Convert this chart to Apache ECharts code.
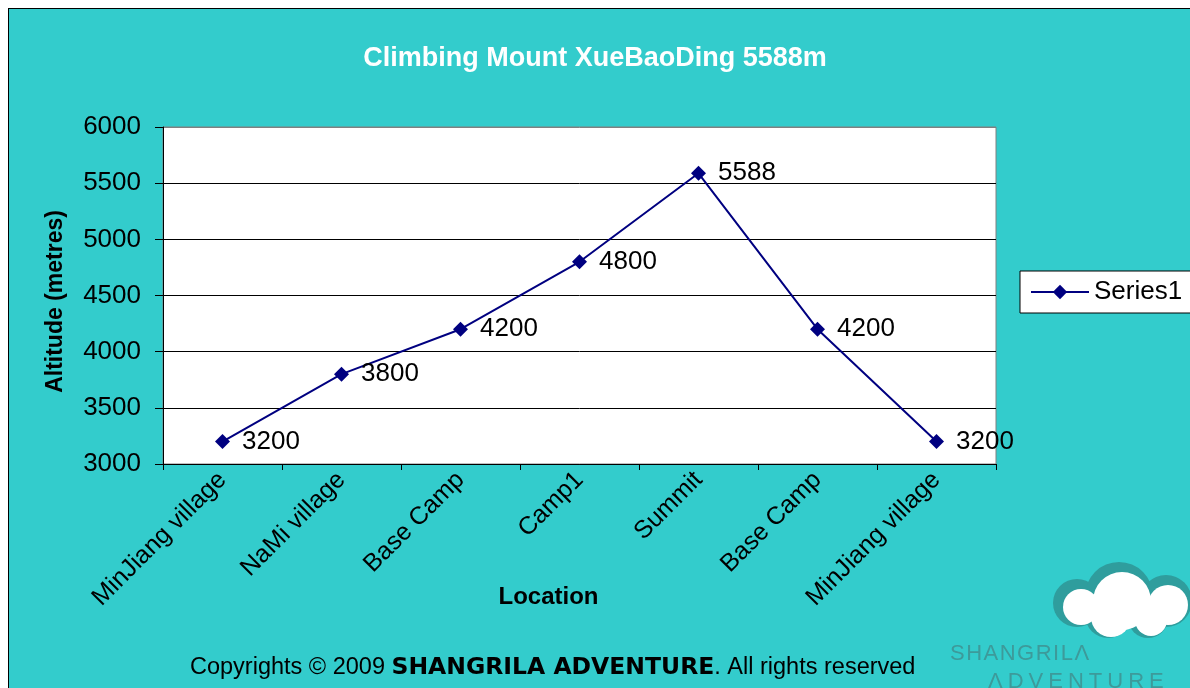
<!DOCTYPE html>
<html>
<head>
<meta charset="utf-8">
<script src="https://cdn.jsdelivr.net/npm/echarts@6/dist/echarts.min.js"></script>
<style>
  html, body { margin: 0; padding: 0; background: #fff; }
  #frame { position: absolute; left: 8px; top: 8px; width: 1300px; height: 800px;
           background: #33CCCC; border: 1.5px solid #000; }
  #main { position: absolute; left: 0; top: 0; width: 1190px; height: 688px; }
</style>
</head>
<body>
<div id="frame"></div>
<div id="main"></div>
<script>
// 数据
var locations = ['MinJiang village', 'NaMi village', 'Base Camp', 'Camp1', 'Summit', 'Base Camp', 'MinJiang village'];
var altitudes = [3200, 3800, 4200, 4800, 5588, 4200, 3200];
var seriesName = 'Series1';

var myChart = echarts.init(document.getElementById('main'));
var font = 'Liberation Sans, Arial, sans-serif';
var shadow = '#2f9d9d';
var logoColor = '#3d9a9a';

// 标志文字：逐字加间距
function spaced(word) {
    return word.split('').map(function (c) { return '{s|' + c + '}'; }).join('');
}

var option = {
    backgroundColor: 'transparent',
    textStyle: { fontFamily: font },
    animation: false,
    title: {
        text: 'Climbing Mount XueBaoDing 5588m',
        left: 'center',
        top: 40,
        textStyle: { color: '#fff', fontSize: 27, fontWeight: 'bold', fontFamily: font }
    },
    legend: {
        left: 1020,
        top: 271,
        orient: 'vertical',
        backgroundColor: '#fff',
        borderColor: '#000',
        borderWidth: 1,
        borderRadius: 0,
        padding: [8, 40, 8, 10],
        itemWidth: 58,
        itemHeight: 18,
        itemGap: 0,
        textStyle: { color: '#000', fontSize: 26, fontFamily: font },
        data: [seriesName]
    },
    grid: {
        left: 163,
        right: 194,
        top: 127,
        bottom: 224,
        show: true,
        backgroundColor: '#fff',
        borderColor: '#808080',
        borderWidth: 1
    },
    xAxis: {
        type: 'category',
        data: locations,
        boundaryGap: true,
        name: 'Location',
        nameLocation: 'middle',
        nameGap: 121,
        nameMoveOverlap: false,
        nameTextStyle: { color: '#000', fontSize: 24, fontWeight: 'bold', padding: [0, 62, 0, 0] },
        axisLine: { lineStyle: { color: '#000', width: 1 } },
        axisTick: { show: true, length: 6, lineStyle: { color: '#000' } },
        axisLabel: { rotate: 45, margin: 12, color: '#000', fontSize: 25, interval: 0 }
    },
    yAxis: {
        type: 'value',
        min: 3000,
        max: 6000,
        interval: 500,
        name: 'Altitude (metres)',
        nameLocation: 'middle',
        nameGap: 96,
        nameMoveOverlap: false,
        nameTextStyle: { color: '#000', fontSize: 23, fontWeight: 'bold', padding: [0, 12, 0, 0] },
        axisLine: { show: true, lineStyle: { color: '#000', width: 1 } },
        axisTick: { show: true, length: 8, lineStyle: { color: '#000' } },
        axisLabel: { margin: 22, color: '#000', fontSize: 26, formatter: function (v) { return String(v); } },
        splitLine: { show: true, lineStyle: { color: ['#000', '#000', '#000', '#000', '#000', '#000', '#808080'], width: 1 } }
    },
    series: [{
        name: seriesName,
        type: 'line',
        data: altitudes,
        symbol: 'diamond',
        symbolSize: 15,
        itemStyle: { color: '#000080' },
        lineStyle: { color: '#000080', width: 2 },
        label: { show: true, position: 'right', distance: 12, color: '#000', fontSize: 26 }
    }],
    graphic: [
        {
            type: 'text',
            left: 190,
            top: 656,
            style: {
                text: '{a|Copyrights © 2009 }{b|SHANGRILA ADVENTURE}{a|. All rights reserved}',
                rich: {
                    a: { fontSize: 23.5, fill: '#000', fontFamily: font },
                    b: { fontSize: 23.5, fontWeight: 'bold', fill: '#000', fontFamily: 'DejaVu Sans, sans-serif' }
                }
            }
        },
        // cloud logo
        {
            type: 'group',
            children: [
                { type: 'circle', shape: { cx: 1077, cy: 603, r: 24 }, style: { fill: shadow } },
                { type: 'circle', shape: { cx: 1119, cy: 596, r: 34 }, style: { fill: shadow } },
                { type: 'circle', shape: { cx: 1166, cy: 601, r: 26 }, style: { fill: shadow } },
                { type: 'circle', shape: { cx: 1108, cy: 615, r: 23 }, style: { fill: shadow } },
                { type: 'circle', shape: { cx: 1148, cy: 618, r: 20 }, style: { fill: shadow } },
                { type: 'circle', shape: { cx: 1081, cy: 607, r: 18 }, style: { fill: '#fff' } },
                { type: 'circle', shape: { cx: 1122, cy: 601, r: 29 }, style: { fill: '#fff' } },
                { type: 'circle', shape: { cx: 1168, cy: 605, r: 20 }, style: { fill: '#fff' } },
                { type: 'circle', shape: { cx: 1111, cy: 617, r: 20 }, style: { fill: '#fff' } },
                { type: 'circle', shape: { cx: 1151, cy: 620, r: 16 }, style: { fill: '#fff' } }
            ]
        },
        {
            type: 'text',
            left: 950,
            top: 643,
            style: {
                text: spaced('SHANGRILΛ'),
                rich: { s: { fontSize: 22, fill: logoColor, fontFamily: font, padding: [0, 1.5, 0, 0] } }
            }
        },
        {
            type: 'text',
            left: 988,
            top: 671,
            style: {
                text: spaced('ΛDVENTURE'),
                rich: { s: { fontSize: 22, fill: logoColor, fontFamily: font, padding: [0, 5, 0, 0] } }
            }
        }
    ]
};

myChart.setOption(option);
</script>
</body>
</html>
